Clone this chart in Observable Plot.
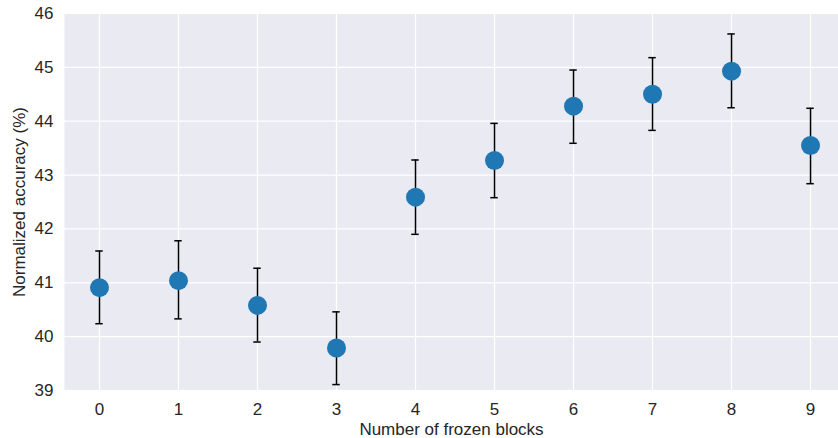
<!DOCTYPE html>
<html>
<head>
<meta charset="utf-8">
<script src="https://cdn.jsdelivr.net/npm/d3@7"></script>
<script src="https://cdn.jsdelivr.net/npm/@observablehq/plot@0.6"></script>
<style>
  html, body { margin: 0; padding: 0; background: #fff; }
  #chart svg { display: block; }
</style>
</head>
<body>
<div id="chart"></div>
<script>
const blocks = [0, 1, 2, 3, 4, 5, 6, 7, 8, 9];
const means  = [40.91, 41.04, 40.58, 39.79, 42.59, 43.27, 44.28, 44.50, 44.93, 43.55];
const lower  = [40.24, 40.33, 39.90, 39.11, 41.90, 42.58, 43.59, 43.83, 44.25, 42.84];
const upper  = [41.59, 41.78, 41.27, 40.46, 43.28, 43.96, 44.95, 45.18, 45.62, 44.24];
const yTicks = [39, 40, 41, 42, 43, 44, 45, 46];

const data = blocks.map((b, i) => ({x: b, y: means[i], lo: lower[i], hi: upper[i]}));
const capHalf = 0.047;
const fs = 17;

const chart = Plot.plot({
  width: 838,
  height: 438,
  marginLeft: 64,
  marginRight: 0,
  marginTop: 13,
  marginBottom: 48,
  style: {fontFamily: "'Liberation Sans', Arial, sans-serif", fontSize: fs + "px", color: "#262626", background: "white"},
  x: {domain: [-0.443, 9.354]},
  y: {domain: [39, 46]},
  marks: [
    Plot.frame({fill: "#EAEAF2", stroke: null}),
    Plot.gridX(blocks, {stroke: "white", strokeOpacity: 1, strokeWidth: 1.2}),
    Plot.gridY(yTicks, {stroke: "white", strokeOpacity: 1, strokeWidth: 1.2}),
    Plot.axisX(blocks, {tickSize: 0, tickPadding: 12, tickFormat: d3.format("d"), fontSize: fs, label: "Number of frozen blocks", labelAnchor: "center", labelArrow: "none", labelOffset: 44, fill: "#262626"}),
    Plot.axisY(yTicks, {tickSize: 0, tickPadding: 11, tickFormat: d3.format("d"), fontSize: fs, label: "Normalized accuracy (%)", labelAnchor: "center", labelArrow: "none", labelOffset: 52, fill: "#262626"}),
    Plot.ruleX(data, {x: "x", y1: "lo", y2: "hi", stroke: "black", strokeWidth: 1.5}),
    Plot.ruleY(data, {y: "lo", x1: d => d.x - capHalf, x2: d => d.x + capHalf, stroke: "black", strokeWidth: 1.5}),
    Plot.ruleY(data, {y: "hi", x1: d => d.x - capHalf, x2: d => d.x + capHalf, stroke: "black", strokeWidth: 1.5}),
    Plot.dot(data, {x: "x", y: "y", r: 9.5, fill: "#1f77b4", stroke: null})
  ]
});
document.getElementById("chart").append(chart);
</script>
</body>
</html>
